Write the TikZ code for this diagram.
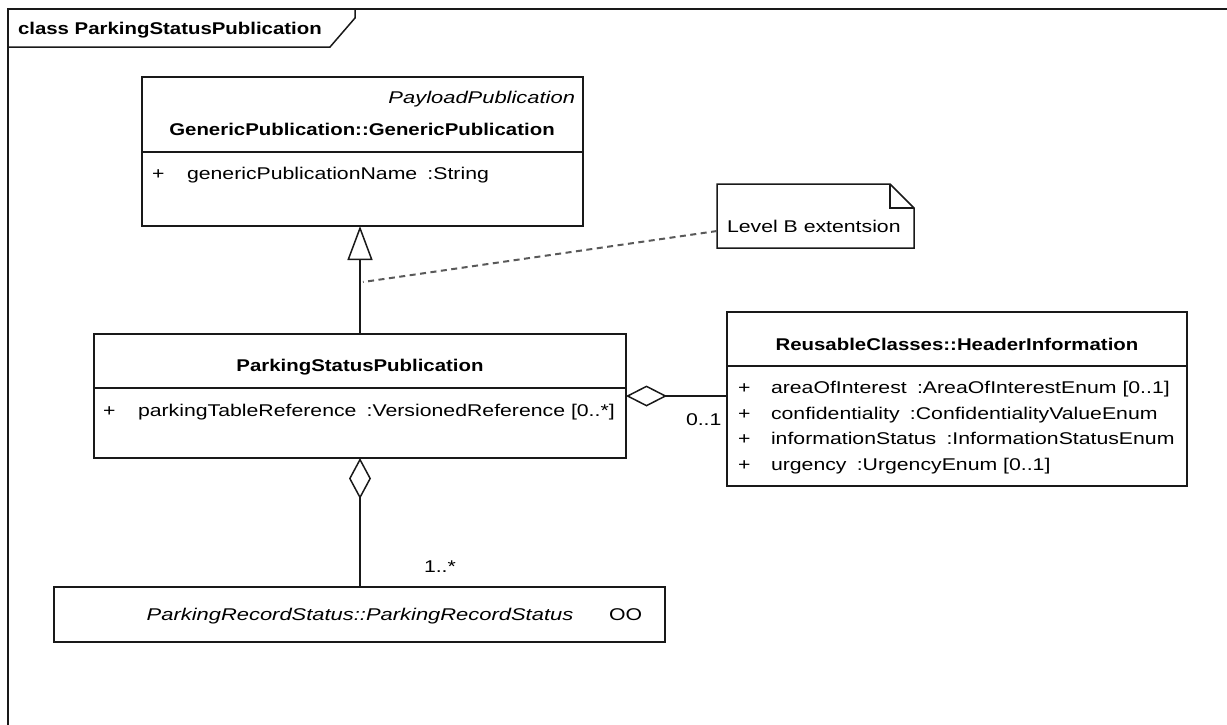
\documentclass[tikz,border=0pt]{standalone}
\usepackage{fontspec}
\setmainfont{Liberation Sans}[
  UprightFeatures={FakeStretch=1.25},
  BoldFeatures={FakeStretch=1.2},
  ItalicFeatures={FakeStretch=1.29}]
\usetikzlibrary{arrows.meta}
\begin{document}
\begin{tikzpicture}[x=1pt,y=-1pt,
  every node/.style={font=\fontsize{17}{20}\selectfont, inner sep=0pt, outer sep=0pt},
  boxline/.style={line width=1.5pt, draw=black!90},
  umlbox/.style={boxline, fill=white, anchor=north west},
  lbl/.style={anchor=base west},
  ctr/.style={anchor=base},
  gen/.style={boxline, -{Triangle[open, length=34pt, width=25pt]}},
  aggr/.style={boxline, {Diamond[open, length=41pt, width=21pt]}-},
  aggrv/.style={boxline, {Diamond[open, length=41pt, width=22pt]}-},
  notelink/.style={line width=2pt, draw=black!65, dash pattern=on 6pt off 4.5pt}]

% canvas
\useasboundingbox (0,0) rectangle (1227,724);
\fill[white] (0,0) rectangle (1227,724);

% diagram frame and name tab
\draw[boxline] (8,740) -- (8,9) -- (1240,9);
\draw[boxline] (8,47) -- (330,47) -- (355,18) -- (355,9);
\node[lbl] (frametitle) at (18,34) {\bfseries class ParkingStatusPublication};

% GenericPublication::GenericPublication
\node[umlbox, minimum width=441pt, minimum height=149pt] (gp) at (142,77) {};
\draw[boxline] (142,152) -- (583,152);
\node[anchor=base east] (gpster) at (575,103) {\itshape PayloadPublication};
\node[ctr] (gptitle) at (362,135.5) {\bfseries GenericPublication::GenericPublication};
\node[lbl] (gpplus) at (152,179) {+};
\node[lbl] (gpattr) at (187,179) {genericPublicationName\hspace{0.6em}:String};

% ParkingStatusPublication
\node[umlbox, minimum width=532pt, minimum height=124pt] (psp) at (94,334) {};
\draw[boxline] (94,388) -- (626,388);
\node[ctr] (psptitle) at (360,371) {\bfseries ParkingStatusPublication};
\node[lbl] (pspplus) at (103,416) {+};
\node[lbl] (pspattr) at (138,416) {parkingTableReference\hspace{0.6em}:VersionedReference [0..*]};

% ReusableClasses::HeaderInformation
\node[umlbox, minimum width=460pt, minimum height=174pt] (hi) at (727,312) {};
\draw[boxline] (727,366) -- (1187,366);
\node[ctr] (hititle) at (957,350) {\bfseries ReusableClasses::HeaderInformation};
\node[lbl] (hiplusa) at (738,393) {+};
\node[lbl] (hiattra) at (771,393) {areaOfInterest\hspace{0.6em}:AreaOfInterestEnum [0..1]};
\node[lbl] (hiplusb) at (738,419) {+};
\node[lbl] (hiattrb) at (771,419) {confidentiality\hspace{0.6em}:ConfidentialityValueEnum};
\node[lbl] (hiplusc) at (738,444) {+};
\node[lbl] (hiattrc) at (771,444) {informationStatus\hspace{0.6em}:InformationStatusEnum};
\node[lbl] (hiplusd) at (738,470) {+};
\node[lbl] (hiattrd) at (771,470) {urgency\hspace{0.6em}:UrgencyEnum [0..1]};

% ParkingRecordStatus::ParkingRecordStatus
\node[umlbox, minimum width=611pt, minimum height=55pt] (prs) at (54,587) {};
\node[ctr] (prstitle) at (360,620) {\itshape ParkingRecordStatus::ParkingRecordStatus};
\node[lbl] (prsflag) at (609,620) {OO};

% note
\node[anchor=north west, minimum width=197pt, minimum height=64pt] (note) at (717,184) {};
\draw[boxline, fill=white] (note.north west) -- ([xshift=-24pt]note.north east)
  -- ([yshift=-24pt]note.north east) -- (note.south east) -- (note.south west) -- cycle;
\draw[boxline] ([xshift=-24pt]note.north east) -- ++(0,24) -- ([yshift=-24pt]note.north east);
\node[lbl] (notetext) at (727,232) {Level B extentsion};

% connectors
\draw[gen] (psp.north) -- (psp.north |- gp.south);
\coordinate (genpt) at (363,282);
\draw[notelink] ([yshift=-15pt]note.west) -- (genpt);
\draw[aggr] (psp.east) -- (psp.east -| hi.west);
\node[lbl] (mulhi) at (686,425) {0..1};
\draw[aggrv] (psp.south) -- (psp.south |- prs.north);
\node[lbl] (mulprs) at (424,572) {1..*};

\end{tikzpicture}
\end{document}
